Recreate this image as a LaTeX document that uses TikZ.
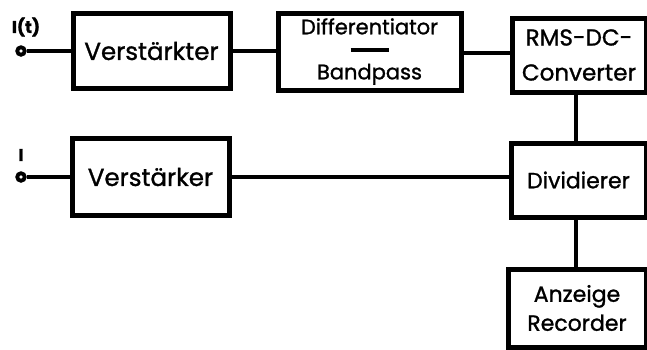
\documentclass[tikz,border=0pt]{standalone}
\usepackage{fontspec}
\setmainfont{Poppins}[FakeBold=1.2]
\begin{document}
\begin{tikzpicture}[x=1pt,y=1pt,
  blk/.style={draw,line width=5pt,rectangle,inner sep=0pt,align=center},
  wire/.style={line width=4pt},
  lbl/.style={font=\fontsize{17}{20}\selectfont\bfseries},
  term/.style={circle,draw,line width=3.8pt,inner sep=0pt,minimum size=7.5pt,fill=white}]
\useasboundingbox (0,0) rectangle (647,-349);
\node[blk,minimum width=157,minimum height=75,font=\fontsize{24.5}{28}\selectfont] (v1) at (151.5,-51) {Verstärkter};
\node[blk,minimum width=183,minimum height=77,font=\fontsize{21}{22.5}\selectfont] (diff) at (369.5,-51.5) {Differentiator\\\rule[5pt]{38pt}{4pt}\\Bandpass};
\node[blk,minimum width=134,minimum height=74,font=\fontsize{23}{35}\selectfont] (rms) at (579,-55) {RMS-DC-\\Converter};
\node[blk,minimum width=157,minimum height=77,font=\fontsize{24.5}{28}\selectfont] (v2) at (150.5,-177) {Verstärker};
\node[blk,minimum width=135,minimum height=74,font=\fontsize{22}{26}\selectfont] (div) at (578.5,-180) {Dividierer};
\node[blk,minimum width=138,minimum height=78,font=\fontsize{22}{29}\selectfont] (anz) at (577,-308) {Anzeige\\Recorder};
\node[term] (t1) at (21,-51) {};
\node[term] (t2) at (21,-177) {};
\node[lbl] (l1) at (26,-27) {I(t)};
\node[lbl] (l2) at (21,-155) {I};
\draw[wire] (t1) -- (v1.west);
\draw[wire] (v1.east) -- (v1.east -| diff.west);
\draw[wire] (diff.east |- 0,-53) -- (rms.west |- 0,-53);
\draw[wire] (rms.south -| 576,0) -- (div.north -| 576,0);
\draw[wire] (t2) -- (v2.west);
\draw[wire] (v2.east) -- (div.west |- v2.east);
\draw[wire] (div.south -| 576,0) -- (anz.north -| 576,0);
\end{tikzpicture}
\end{document}
